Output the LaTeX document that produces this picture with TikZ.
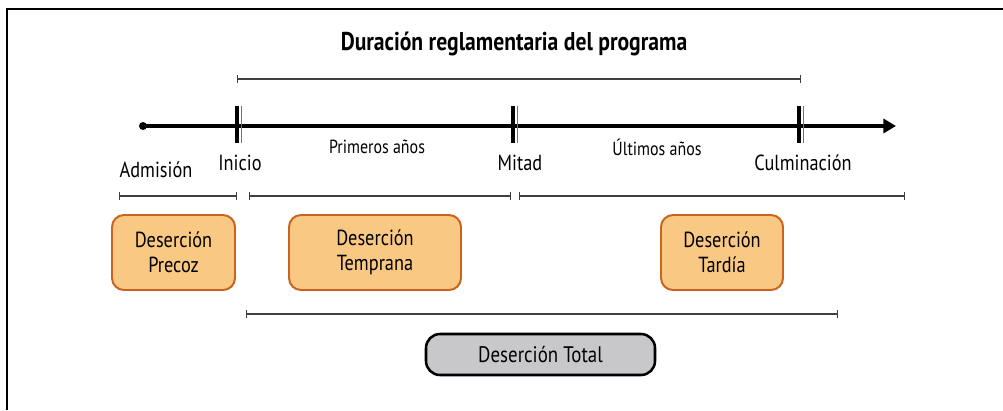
\documentclass[tikz,border=0pt]{standalone}
\usepackage{fontspec}
\setmainfont{PT Sans}[FakeStretch=0.84]
\usetikzlibrary{arrows.meta}

\newlength\pxu
\setlength\pxu{0.025cm}
\definecolor{boxorange}{RGB}{249,200,130}
\definecolor{edgeorange}{RGB}{200,100,30}
\definecolor{boxgray}{RGB}{200,200,202}

\tikzset{
  span/.style = {draw=black!75, line width=0.8pt, {Bar[width=5pt]}-{Bar[width=5pt]}},
  phase/.style = {rectangle, rounded corners=12\pxu, draw=edgeorange, line width=1.4pt,
                  fill=boxorange, align=center, font=\fontsize{15.5}{18}\selectfont,
                  minimum height=75\pxu, inner sep=0pt},
  ticklabel/.style = {font=\fontsize{15.5}{17}\selectfont},
  smalllabel/.style = {font=\fontsize{13.5}{15}\selectfont}
}

\begin{document}
\begin{tikzpicture}[x=\pxu, y=-\pxu]
	\useasboundingbox (0,0) rectangle (1003,410);
	% frame
	\draw[line width=1.5pt] (7,410) -- (7,9) -- (1003,9);
	% title and duration
	\node[font=\bfseries\fontsize{18.3}{20}\selectfont] (titulo) at (514,44) {Duración reglamentaria del programa};
	\coordinate (d1) at (237,79);
	\coordinate (d2) at (801,79);
	\draw[span] (d1) -- (d2);
	% axis
	\fill (143,126) circle[radius=4] coordinate (origen);
	\coordinate (fin) at (896,126);
	\draw[line width=2.2pt, -{Triangle[length=9pt, width=10pt]}] (origen) -- (fin);
	\foreach \x/\nom in {237/ini, 513/mit, 799/cul}{
		\draw[line width=3.2pt] (\x,106) -- (\x,143);
		\draw[black!55, line width=0.7pt] (\x+4,106) -- (\x+4,143);
	}
	\node[ticklabel] (admision) at (156,170) {Admisión};
	\node[ticklabel] (inicio) at (240,163) {Inicio};
	\node[ticklabel] (mitad) at (520,163) {Mitad};
	\node[ticklabel] (culminacion) at (803,163) {Culminación};
	\node[smalllabel] (primeros) at (377,147) {Primeros años};
	\node[smalllabel] (ultimos) at (657,147) {Últimos años};
	% stages
	\draw[span] (119,196) -- (237,196);
	\draw[span] (249,196) -- (511,196);
	\draw[span] (519,196) -- (905,196);
	\node[phase, minimum width=123\pxu] (precoz) at (173.5,252.5) {Deserción\\Precoz};
	\node[phase, minimum width=172\pxu] (temprana) at (375,252.5) {Deserción\\Temprana};
	\node[phase, minimum width=122\pxu] (tardia) at (722,252.5) {Deserción\\Tardía};
	% total
	\draw[span] (246,314) -- (838,314);
	\node[rectangle, rounded corners=14\pxu, draw, line width=1.8pt, fill=boxgray,
	      minimum width=229\pxu, minimum height=41\pxu, font=\fontsize{16}{18}\selectfont] (total) at (540.5,354.5) {Deserción Total};
\end{tikzpicture}
\end{document}
